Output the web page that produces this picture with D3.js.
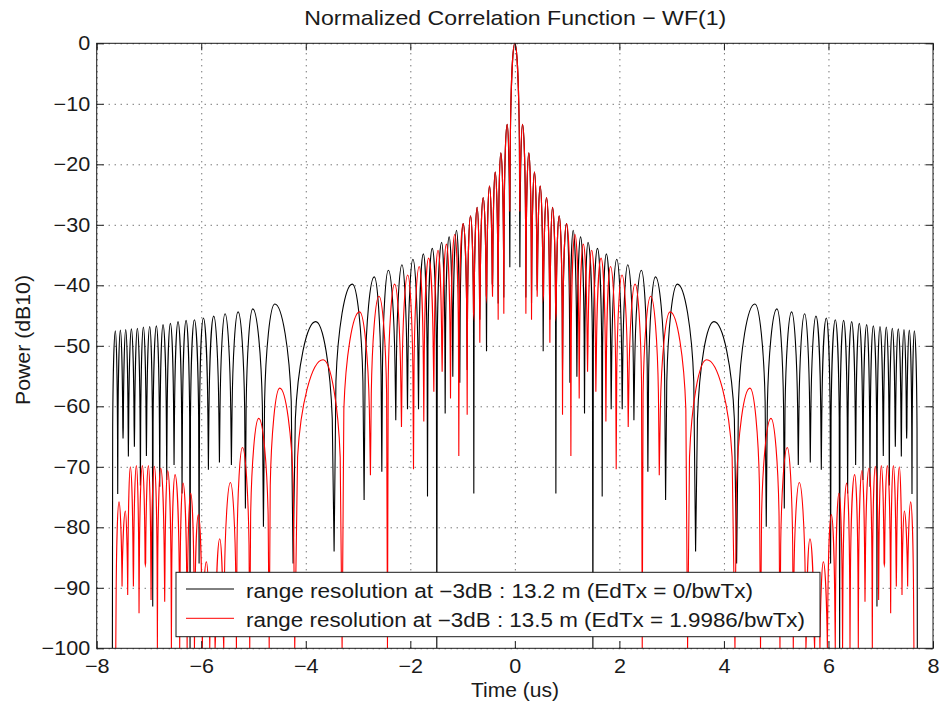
<!DOCTYPE html>
<html>
<head>
<meta charset="utf-8">
<script src="https://cdn.jsdelivr.net/npm/d3@7/dist/d3.min.js"></script>
<style>
  html, body { margin: 0; padding: 0; background: #ffffff; }
  svg { display: block; }
  text { font-family: "Liberation Sans", Arial, Helvetica, sans-serif; fill: #1a1a1a; }
</style>
</head>
<body>
<script>
// ---------------- DATA ----------------
const titleText = "Normalized Correlation Function \u2212 WF(1)";
const xLabelText = "Time (us)";
const yLabelText = "Power (dB10)";
const legendLabels = [
  "range resolution at \u22123dB : 13.2 m (EdTx = 0/bwTx)",
  "range resolution at \u22123dB : 13.5 m (EdTx = 1.9986/bwTx)"
];
const seriesColors = ["#000000", "#ff0000"];

const xTickValues = [-8, -6, -4, -2, 0, 2, 4, 6, 8];
const xTickLabels = ["\u22128", "\u22126", "\u22124", "\u22122", "0", "2", "4", "6", "8"];
const yTickValues = [0, -10, -20, -30, -40, -50, -60, -70, -80, -90, -100];
const yTickLabels = ["0", "\u221210", "\u221220", "\u221230", "\u221240", "\u221250", "\u221260", "\u221270", "\u221280", "\u221290", "\u2212100"];

// Black series (EdTx = 0): lobe boundaries (nulls) and lobe tops (peaks)
const blackNullT = [
  -7.700, -7.598, -7.496, -7.394, -7.279, -7.164, -7.049, -6.928, -6.794, -6.660,
  -6.520, -6.367, -6.214, -6.041, -5.863, -5.652, -5.423, -5.155, -4.810, -4.243,
  -3.458, -2.884, -2.545, -2.278, -2.054, -1.843, -1.671, -1.493, -1.333, -1.187,
  -1.053, -0.912, -0.785, -0.670, -0.542, -0.427, -0.319, -0.211, -0.096,
  0.096, 0.211, 0.319, 0.427, 0.542, 0.670, 0.785, 0.912, 1.053,
  1.187, 1.333, 1.493, 1.671, 1.843, 2.054, 2.278, 2.545, 2.884, 3.458,
  4.243, 4.810, 5.155, 5.423, 5.652, 5.863, 6.041, 6.214, 6.367, 6.520,
  6.660, 6.794, 6.928, 7.049, 7.164, 7.279, 7.394, 7.496, 7.598, 7.700
];
const blackNullDb = [
  -100, -74.5, -65.3, -68.3, -66.7, -73.1, -68.2, -93.1, -73.3, -72.2,
  -69.7, -74.4, -100, -86.0, -70.5, -69.3, -69.7, -76.9, -79.9, -86.0,
  -84.0, -75.5, -70.8, -62.3, -60.5, -60.5, -74.9, -100, -61.2, -55.1,
  -56.1, -54.0, -74.4, -45.7, -50.9, -40.0, -43.0, -42.0, -37.0,
  -37.0, -42.0, -43.0, -40.0, -50.9, -45.7, -74.4, -54.0, -56.1,
  -55.1, -61.2, -100, -74.9, -60.5, -60.5, -62.3, -70.8, -75.5, -84.0,
  -86.0, -79.9, -76.9, -69.7, -69.3, -70.5, -86.0, -100, -74.4, -69.7,
  -72.2, -73.3, -93.1, -68.2, -73.1, -66.7, -68.3, -65.3, -74.5, -100
];
const blackPeakT = [
  -7.643, -7.547, -7.445, -7.336, -7.222, -7.107, -6.986, -6.858, -6.731, -6.590,
  -6.444, -6.290, -6.131, -5.959, -5.761, -5.544, -5.295, -5.014, -4.593, -3.810,
  -3.110, -2.690, -2.420, -2.160, -1.950, -1.750, -1.580, -1.400, -1.257, -1.116,
  -0.989, -0.848, -0.721, -0.606, -0.485, -0.376, -0.268, -0.147,
  0,
  0.147, 0.268, 0.376, 0.485, 0.606, 0.721, 0.848, 0.989,
  1.116, 1.257, 1.400, 1.580, 1.750, 1.950, 2.160, 2.420, 2.690, 3.110,
  3.810, 4.593, 5.014, 5.295, 5.544, 5.761, 5.959, 6.131, 6.290, 6.444,
  6.590, 6.731, 6.858, 6.986, 7.107, 7.222, 7.336, 7.445, 7.547, 7.643
];
const blackPeakDb = [
  -47.5, -47.4, -47.3, -47.2, -47.1, -46.9, -46.8, -46.7, -46.5, -46.3,
  -46.0, -45.8, -45.7, -45.4, -45.1, -44.7, -44.4, -43.9, -43.1, -46.0,
  -39.8, -38.6, -37.5, -36.6, -35.7, -34.8, -33.9, -32.9, -32.0, -30.9,
  -29.8, -28.5, -27.1, -25.5, -23.6, -21.3, -18.1, -13.4,
  0,
  -13.4, -18.1, -21.3, -23.6, -25.5, -27.1, -28.5, -29.8,
  -30.9, -32.0, -32.9, -33.9, -34.8, -35.7, -36.6, -37.5, -38.6, -39.8,
  -46.0, -43.1, -43.9, -44.4, -44.7, -45.1, -45.4, -45.7, -45.8, -46.0,
  -46.3, -46.5, -46.7, -46.8, -46.9, -47.1, -47.2, -47.3, -47.4, -47.5
];

// Red series (EdTx = 1.9986/bwTx)
const redNullT = [
  -7.635, -7.515, -7.407, -7.298, -7.190, -7.069, -6.960, -6.839, -6.699, -6.571,
  -6.412, -6.270, -6.130, -5.979, -5.837, -5.735, -5.569, -5.327, -5.072, -4.700,
  -4.211, -3.305, -2.763, -2.437, -2.169, -1.939, -1.742, -1.550, -1.391, -1.231,
  -1.072, -0.912, -0.785, -0.670, -0.542, -0.427, -0.319, -0.211, -0.096,
  0.096, 0.211, 0.319, 0.427, 0.542, 0.670, 0.785, 0.912, 1.072,
  1.231, 1.391, 1.550, 1.742, 1.939, 2.169, 2.437, 2.763, 3.305, 4.211,
  4.700, 5.072, 5.327, 5.569, 5.735, 5.837, 5.979, 6.130, 6.270, 6.412,
  6.571, 6.699, 6.839, 6.960, 7.069, 7.190, 7.298, 7.407, 7.515, 7.635
];
const redNullDb = [
  -100, -89.8, -91.2, -89.8, -94.2, -86.2, -92.0, -100, -92.3, -100,
  -100, -100, -100, -100, -100, -100, -100, -100, -100, -100,
  -100, -100, -71.4, -100, -63.4, -70.4, -62.5, -57.6, -54.3, -58.7,
  -68.2, -61.4, -45.0, -49.5, -42.0, -41.9, -45.7, -44.7, -27.8,
  -27.8, -44.7, -45.7, -41.9, -42.0, -49.5, -45.0, -61.4, -68.2,
  -58.7, -54.3, -57.6, -62.5, -70.4, -63.4, -100, -71.4, -100, -100,
  -100, -100, -100, -100, -100, -100, -100, -100, -100, -100,
  -100, -92.3, -100, -92.0, -86.2, -94.2, -89.8, -91.2, -89.8, -100
];
const redPeakT = [
  -7.573, -7.452, -7.356, -7.241, -7.126, -7.011, -6.896, -6.775, -6.641, -6.501,
  -6.348, -6.201, -6.055, -5.902, -5.786, -5.646, -5.442, -5.212, -4.900, -4.498,
  -3.669, -2.970, -2.600, -2.300, -2.050, -1.830, -1.650, -1.470, -1.310, -1.150,
  -0.989, -0.848, -0.721, -0.606, -0.485, -0.376, -0.268, -0.147,
  0,
  0.147, 0.268, 0.376, 0.485, 0.606, 0.721, 0.848, 0.989,
  1.150, 1.310, 1.470, 1.650, 1.830, 2.050, 2.300, 2.600, 2.970, 3.669,
  4.498, 4.900, 5.212, 5.442, 5.646, 5.786, 5.902, 6.055, 6.201, 6.348,
  6.501, 6.641, 6.775, 6.896, 7.011, 7.126, 7.241, 7.356, 7.452, 7.573
];
const redPeakDb = [
  -75.8, -77.3, -70.0, -69.8, -69.8, -69.8, -69.9, -70.2, -70.6, -71.3,
  -72.7, -74.4, -77.9, -85.7, -90.0, -81.9, -72.6, -66.8, -62.0, -57.0,
  -52.3, -44.4, -41.8, -39.8, -38.3, -36.9, -35.5, -34.2, -33.2, -31.6,
  -29.8, -28.5, -27.1, -25.5, -23.6, -21.3, -18.1, -13.4,
  0,
  -13.4, -18.1, -21.3, -23.6, -25.5, -27.1, -28.5, -29.8,
  -31.6, -33.2, -34.2, -35.5, -36.9, -38.3, -39.8, -41.8, -44.4, -52.3,
  -57.0, -62.0, -66.8, -72.6, -81.9, -90.0, -85.7, -77.9, -74.4, -72.7,
  -71.3, -70.6, -70.2, -69.9, -69.8, -69.8, -69.8, -70.0, -77.3, -75.8
];

// ---------------- LAYOUT ----------------
const W = 943, H = 707;
const plot = { left: 96.7, right: 933, top: 43.3, bottom: 648.3 };
const FONT = '"Liberation Sans", Arial, Helvetica, sans-serif';

const x = d3.scaleLinear().domain([-8, 8]).range([plot.left, plot.right]);
const y = d3.scaleLinear().domain([-100, 0]).range([plot.bottom, plot.top]);

const svg = d3.select("body").append("svg")
  .attr("width", W).attr("height", H)
  .attr("viewBox", `0 0 ${W} ${H}`);

svg.append("rect").attr("width", W).attr("height", H).attr("fill", "#ffffff");

// grid
const gridX = svg.append("g")
  .attr("transform", `translate(0,${plot.bottom})`)
  .call(d3.axisBottom(x).tickValues(xTickValues).tickFormat("")
    .tickSize(-(plot.bottom - plot.top)));
gridX.select(".domain").remove();
gridX.selectAll("line").attr("stroke", "#3a3a3a").attr("stroke-width", 1)
  .attr("stroke-dasharray", "1,5");

const gridY = svg.append("g")
  .attr("transform", `translate(${plot.left},0)`)
  .call(d3.axisLeft(y).tickValues(yTickValues).tickFormat("")
    .tickSize(-(plot.right - plot.left)));
gridY.select(".domain").remove();
gridY.selectAll("line").attr("stroke", "#3a3a3a").attr("stroke-width", 1)
  .attr("stroke-dasharray", "1,5");

// clip
svg.append("defs").append("clipPath").attr("id", "plotclip")
  .append("rect")
  .attr("x", plot.left).attr("y", plot.top - 1)
  .attr("width", plot.right - plot.left).attr("height", plot.bottom - plot.top + 1);

// lobe drawing: each lobe = null -> peak -> null, rounded top and sharp nulls
function halfUp(p, tN, dN, tP, dP) {
  const xN = x(tN), xP = x(tP), hw = xP - xN, D = dP - dN;
  if (D > 16.1) {
    p.lineTo(xN + 0.1 * hw, y(dP - 16.1));
    p.bezierCurveTo(xN + 0.2 * hw, y(dP - 7.5), xN + 0.6 * hw, y(dP), xP, y(dP));
  } else {
    p.bezierCurveTo(xN + 0.15 * hw, y(dP - D * 0.45), xN + 0.6 * hw, y(dP), xP, y(dP));
  }
}
function halfDown(p, tP, dP, tN, dN) {
  const xN = x(tN), xP = x(tP), hw = xP - xN, D = dP - dN;
  if (D > 16.1) {
    p.bezierCurveTo(xN + 0.6 * hw, y(dP), xN + 0.2 * hw, y(dP - 7.5), xN + 0.1 * hw, y(dP - 16.1));
    p.lineTo(xN, y(dN));
  } else {
    p.bezierCurveTo(xN + 0.6 * hw, y(dP), xN + 0.15 * hw, y(dP - D * 0.45), xN, y(dN));
  }
}
function lobePath(nullT, nullDb, peakT, peakDb) {
  const p = d3.path();
  p.moveTo(x(nullT[0]), y(nullDb[0]));
  for (let i = 0; i < peakT.length; i++) {
    halfUp(p, nullT[i], nullDb[i], peakT[i], peakDb[i]);
    halfDown(p, peakT[i], peakDb[i], nullT[i + 1], nullDb[i + 1]);
  }
  return p.toString();
}

const curves = svg.append("g").attr("clip-path", "url(#plotclip)");
curves.append("path")
  .attr("d", lobePath(blackNullT, blackNullDb, blackPeakT, blackPeakDb))
  .attr("fill", "none").attr("stroke", seriesColors[0]).attr("stroke-width", 1.1)
  .attr("stroke-linejoin", "miter").attr("stroke-miterlimit", 40);
curves.append("path")
  .attr("d", lobePath(redNullT, redNullDb, redPeakT, redPeakDb))
  .attr("fill", "none").attr("stroke", seriesColors[1]).attr("stroke-width", 1.1)
  .attr("stroke-linejoin", "miter").attr("stroke-miterlimit", 40);

// axes (ticks inside, MATLAB style)
function styleAxis(g) {
  g.select(".domain").remove();
  g.selectAll(".tick line").attr("stroke", "#1a1a1a").attr("stroke-width", 1);
  g.attr("font-family", FONT).attr("font-size", 20);
  g.selectAll("text").attr("fill", "#1a1a1a");
}
const axL = svg.append("g").attr("transform", `translate(${plot.left},0)`)
  .call(d3.axisLeft(y).tickValues(yTickValues)
    .tickFormat((d, i) => yTickLabels[i]).tickSize(-7).tickPadding(6));
styleAxis(axL);
axL.selectAll("text").attr("transform", "scale(1.08,1)");

const axB = svg.append("g").attr("transform", `translate(0,${plot.bottom})`)
  .call(d3.axisBottom(x).tickValues(xTickValues)
    .tickFormat((d, i) => xTickLabels[i]).tickSize(-7).tickPadding(11));
styleAxis(axB);
axB.selectAll("text").attr("transform", "scale(1.08,1)");

const axT = svg.append("g").attr("transform", `translate(0,${plot.top})`)
  .call(d3.axisTop(x).tickValues(xTickValues).tickFormat("").tickSize(-7));
styleAxis(axT);
const axR = svg.append("g").attr("transform", `translate(${plot.right},0)`)
  .call(d3.axisRight(y).tickValues(yTickValues).tickFormat("").tickSize(-7));
styleAxis(axR);

// box
svg.append("rect")
  .attr("x", plot.left).attr("y", plot.top)
  .attr("width", plot.right - plot.left).attr("height", plot.bottom - plot.top)
  .attr("fill", "none").attr("stroke", "#1a1a1a").attr("stroke-width", 1);

// title & labels
svg.append("text").attr("x", 515.3).attr("y", 25)
  .attr("text-anchor", "middle").attr("font-size", 21)
  .attr("textLength", 422).attr("lengthAdjust", "spacingAndGlyphs")
  .text(titleText);
svg.append("text").attr("x", 515).attr("y", 697)
  .attr("text-anchor", "middle").attr("font-size", 20)
  .attr("textLength", 88).attr("lengthAdjust", "spacingAndGlyphs")
  .text(xLabelText);
svg.append("text")
  .attr("transform", "translate(30,340) rotate(-90)")
  .attr("text-anchor", "middle").attr("font-size", 20)
  .attr("textLength", 130).attr("lengthAdjust", "spacingAndGlyphs")
  .text(yLabelText);

// legend
const lg = { x: 176, y: 572.3, w: 644, h: 64.4 };
svg.append("rect").attr("x", lg.x).attr("y", lg.y).attr("width", lg.w).attr("height", lg.h)
  .attr("fill", "#ffffff").attr("stroke", "#1a1a1a").attr("stroke-width", 1);
const legendRowY = [589, 618.3];
const legendTextLen = [507, 559];
legendLabels.forEach((lab, i) => {
  svg.append("line").attr("x1", 186).attr("x2", 234)
    .attr("y1", legendRowY[i]).attr("y2", legendRowY[i])
    .attr("stroke", seriesColors[i]).attr("stroke-width", 1);
  svg.append("text").attr("x", 246).attr("y", legendRowY[i] + 8.6)
    .attr("font-size", 19.5)
    .attr("textLength", legendTextLen[i]).attr("lengthAdjust", "spacingAndGlyphs")
    .text(lab);
});
</script>
</body>
</html>
